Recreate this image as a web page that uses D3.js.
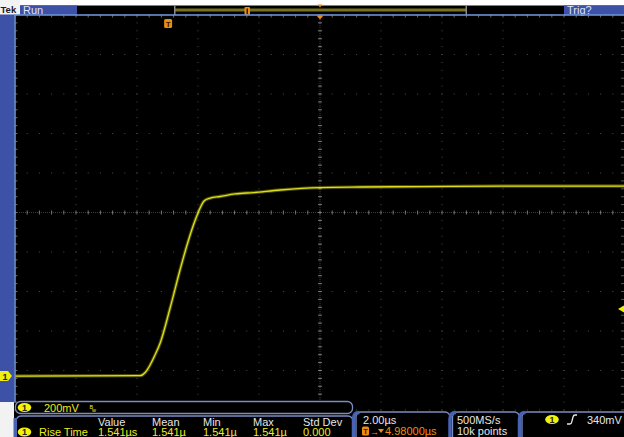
<!DOCTYPE html>
<html><head><meta charset="utf-8">
<script src="https://cdn.jsdelivr.net/npm/d3@7"></script>
<style>
html,body{margin:0;padding:0;background:#000;}
svg{display:block;}
text{font-family:"Liberation Sans","DejaVu Sans",sans-serif;}
</style></head>
<body>
<script>
// ---- data ----
// time in microseconds relative to trigger, voltage in mV (CH1, 200 mV/div)
const timeUs = [-5.02, -0.92, -0.75, -0.59, -0.43, -0.26, 0.07, 0.39, 0.66, 0.89, 1.05, 1.18, 1.38, 1.70, 2.20, 2.79, 3.67, 4.98, 6.30, 8.26, 10.89, 14.98];
const voltMv = [0, 2, 18, 56, 106, 167, 347, 537, 684, 790, 851, 886, 901, 909, 922, 929, 942, 954, 957, 959, 962, 962];
const timeDomain = [-5.02, 14.98];     // 10 div x 2.00 us
const voltDomain = [-172, 1828];       // 10 div x 200 mV
const measHeaders = ["Value", "Mean", "Min", "Max", "Std Dev"];
const measValues = ["1.541\u00b5s", "1.541\u00b5", "1.541\u00b5", "1.541\u00b5", "0.000"];
const measName = "Rise Time";
const chScale = "200mV";
const timeScale = "2.00\u00b5s";
const trigDelay = "4.98000\u00b5s";
const sampleRate = "500MS/s";
const recordLen = "10k points";
const trigLevelMv = 340;
const trigLevelText = "340mV";

const W = 624, H = 437;
const L = 15, R = 625, T = 15, B = 410;
const svg = d3.select("body").append("svg").attr("width", W).attr("height", H);

const x = d3.scaleLinear().domain(timeDomain).range([L, R]);
const y = d3.scaleLinear().domain(voltDomain).range([B, T]);

svg.append("rect").attr("width", W).attr("height", H).attr("fill", "#000");

// ---- graticule ----
const g = svg.append("g");
const xDiv = d3.range(0, 11).map(k => x(timeDomain[0] + k * 2));
const yDiv = d3.range(0, 11).map(k => y(voltDomain[0] + k * 200));
const xMinor = d3.range(0, 51).map(k => x(timeDomain[0] + k * 0.4));
const yMinor = d3.range(0, 51).map(k => y(voltDomain[0] + k * 40));
const dotCol = "#4c4c4c";
yDiv.forEach(yy => {
  xMinor.forEach(xx => g.append("rect").attr("x", xx - 0.5).attr("y", yy - 0.5).attr("width", 1).attr("height", 1).attr("fill", dotCol));
});
xDiv.forEach(xx => {
  yMinor.forEach(yy => g.append("rect").attr("x", xx - 0.5).attr("y", yy - 0.5).attr("width", 1).attr("height", 1).attr("fill", dotCol));
});
// center cross
const cx = xDiv[5], cy = yDiv[5];
g.append("line").attr("x1", L).attr("x2", R).attr("y1", cy).attr("y2", cy).attr("stroke", "#3c3c3c").attr("stroke-dasharray", "1,1");
g.append("line").attr("x1", cx).attr("x2", cx).attr("y1", T).attr("y2", B).attr("stroke", "#3c3c3c").attr("stroke-dasharray", "1,1");
xMinor.forEach(xx => g.append("line").attr("x1", xx).attr("x2", xx).attr("y1", cy - 2).attr("y2", cy + 2).attr("stroke", "#777"));
yMinor.forEach(yy => g.append("line").attr("x1", cx - 2).attr("x2", cx + 2).attr("y1", yy).attr("y2", yy).attr("stroke", "#777"));
// edge ticks
xMinor.forEach(xx => g.append("line").attr("x1", xx).attr("x2", xx).attr("y1", T).attr("y2", T + 2.5).attr("stroke", "#6b6b6b"));
yMinor.forEach(yy => g.append("line").attr("x1", L).attr("x2", L + 2.5).attr("y1", yy).attr("y2", yy).attr("stroke", "#6b6b6b"));
yMinor.forEach(yy => g.append("line").attr("x1", W - 3).attr("x2", W).attr("y1", yy).attr("y2", yy).attr("stroke", "#555"));

// ---- waveform ----
const line = d3.line().x((d, i) => x(timeUs[i])).y((d, i) => y(voltMv[i])).curve(d3.curveMonotoneX);
svg.append("path").attr("d", line(voltMv)).attr("fill", "none").attr("stroke", "#bcbc10").attr("stroke-opacity", 0.4).attr("stroke-width", 3.4);
svg.append("path").attr("d", line(voltMv)).attr("fill", "none").attr("stroke", "#dede1c").attr("stroke-width", 1.3);

// ---- frame ----
svg.append("rect").attr("x", 0).attr("y", 0).attr("width", W).attr("height", 5.5).attr("fill", "#fff");
svg.append("rect").attr("x", 0).attr("y", 0).attr("width", 20).attr("height", 15).attr("fill", "#f2f2f2");
svg.append("text").attr("x", 0.5).attr("y", 13).attr("font-size", 9.5).attr("font-weight", "bold").attr("fill", "#1a1a2a").text("Tek");
svg.append("rect").attr("x", 20).attr("y", 5.5).attr("width", 57).attr("height", 9.5).attr("fill", "#3d51a6");
svg.append("text").attr("x", 23).attr("y", 14).attr("font-size", 11).attr("fill", "#dfe4f4").text("Run");
svg.append("rect").attr("x", 564).attr("y", 5.5).attr("width", 60).attr("height", 9.5).attr("fill", "#3d51a6");
svg.append("text").attr("x", 567).attr("y", 14).attr("font-size", 11).attr("fill", "#dfe4f4").text("Trig?");
// record view
svg.append("rect").attr("x", 175).attr("y", 8.5).attr("width", 291).attr("height", 3).attr("fill", "#77731a");
svg.append("rect").attr("x", 174).attr("y", 5.5).attr("width", 1.5).attr("height", 9.5).attr("fill", "#8a8a8a");
svg.append("rect").attr("x", 465.5).attr("y", 5.5).attr("width", 1.5).attr("height", 9.5).attr("fill", "#8a8a8a");
svg.append("rect").attr("x", 244.5).attr("y", 7).attr("width", 5.5).attr("height", 8).attr("rx", 1).attr("fill", "#f08a10");
svg.append("rect").attr("x", 246.5).attr("y", 8.5).attr("width", 1.5).attr("height", 5.5).attr("fill", "#3a2000");
svg.append("path").attr("d", `M${cx - 2.5},4.5 L${cx + 2.5},4.5 L${cx},7.5 Z`).attr("fill", "#f08a10");
// blue borders
svg.append("rect").attr("x", 0).attr("y", 14.5).attr("width", 14.5).attr("height", 388).attr("fill", "#3d51a6");
svg.append("rect").attr("x", 14).attr("y", 14.2).attr("width", W - 14).attr("height", 1.6).attr("fill", "#6d8fd4");
svg.append("rect").attr("x", 14.2).attr("y", 14.5).attr("width", 1.6).attr("height", 388).attr("fill", "#6d8fd4");
svg.append("rect").attr("x", 0).attr("y", 402).attr("width", 14).attr("height", 35).attr("fill", "#f2f2f2");

// trigger position marker
const tx = x(0);
svg.append("rect").attr("x", tx - 4).attr("y", 19).attr("width", 8).attr("height", 9).attr("rx", 1.5).attr("fill", "#f08a10");
svg.append("text").attr("x", tx).attr("y", 26.5).attr("text-anchor", "middle").attr("font-size", 8).attr("font-weight", "bold").attr("fill", "#3a2000").text("T");
svg.append("path").attr("d", `M${cx - 3.5},15.5 L${cx + 3.5},15.5 L${cx},19.5 Z`).attr("fill", "#f08a10");

// ground marker & trigger level marker
const gy = y(0);
svg.append("path").attr("d", `M0,${gy - 5} L8,${gy - 5} L12,${gy} L8,${gy + 5} L0,${gy + 5} Z`).attr("fill", "#eeee10");
svg.append("text").attr("x", 5).attr("y", gy + 3.5).attr("text-anchor", "middle").attr("font-size", 9).attr("font-weight", "bold").attr("fill", "#222").text("1");
const ty = y(trigLevelMv);
svg.append("path").attr("d", `M${W},${ty - 3.5} L${W - 6},${ty} L${W},${ty + 3.5} Z`).attr("fill", "#eeee10");

// ---- readout panels ----
function badge(px, py) {
  svg.append("ellipse").attr("cx", px).attr("cy", py).attr("rx", 6.8).attr("ry", 4.6).attr("fill", "#f2f20a");
  svg.append("text").attr("x", px).attr("y", py + 3.3).attr("text-anchor", "middle").attr("font-size", 9).attr("font-weight", "bold").attr("fill", "#222").text("1");
}
function panel(px, py, pw, ph) {
  svg.append("rect").attr("x", px).attr("y", py).attr("width", pw).attr("height", ph).attr("rx", 5).attr("fill", "#000").attr("stroke", "#7d8cc0").attr("stroke-width", 1.3);
}
panel(15.5, 401.5, 337, 12);
svg.append("rect").attr("x", 0).attr("y", 414.5).attr("width", 14).attr("height", 23).attr("fill", "#f2f2f2");
panel(16, 416, 337, 30);
svg.append("rect").attr("x", 13.5).attr("y", 418).attr("width", 3.5).attr("height", 20).attr("fill", "#4862b4");
badge(24.5, 407.5);
svg.append("text").attr("x", 44).attr("y", 411.8).attr("font-size", 11).attr("fill", "#ecec20").text(chScale);
svg.append("text").attr("x", 89.5).attr("y", 409).attr("font-size", 5.5).attr("fill", "#ecec20").text("B");
svg.append("text").attr("x", 92).attr("y", 412).attr("font-size", 5.5).attr("fill", "#ecec20").text("w");

const colX = [98, 152, 203, 253, 303];
measHeaders.forEach((h, i) => svg.append("text").attr("x", colX[i]).attr("y", 425.5).attr("font-size", 11).attr("fill", "#e6e6e6").text(h));
badge(24.5, 432);
svg.append("text").attr("x", 39).attr("y", 436).attr("font-size", 11).attr("fill", "#ecec20").text(measName);
measValues.forEach((v, i) => svg.append("text").attr("x", colX[i]).attr("y", 436).attr("font-size", 11).attr("fill", "#ecec20").text(v));

panel(356, 412, 94, 30);
panel(452.5, 412, 67, 30);
panel(522, 412, 106, 30);
[353.5, 450, 519.5].forEach(px => svg.append("path").attr("d", `M${px + 6},412.5 Q${px},412.5 ${px},419 L${px},437`).attr("fill", "none").attr("stroke", "#4862b4").attr("stroke-width", 3.5));

svg.append("text").attr("x", 363).attr("y", 424).attr("font-size", 11).attr("fill", "#e6e6e6").text(timeScale);
svg.append("rect").attr("x", 362).attr("y", 426.5).attr("width", 7).attr("height", 9).attr("rx", 1.5).attr("fill", "#f08a10");
svg.append("text").attr("x", 365.5).attr("y", 434).attr("text-anchor", "middle").attr("font-size", 7.5).attr("font-weight", "bold").attr("fill", "#3a2000").text("T");
svg.append("text").attr("x", 370).attr("y", 434.5).attr("font-size", 9).attr("fill", "#f08a10").text("\u2192");
svg.append("path").attr("d", "M378,429 L384,429 L381,433 Z").attr("fill", "#f08a10");
svg.append("text").attr("x", 385).attr("y", 435).attr("font-size", 11).attr("fill", "#f08a10").text(trigDelay);

svg.append("text").attr("x", 457).attr("y", 424).attr("font-size", 11).attr("fill", "#e6e6e6").text(sampleRate);
svg.append("text").attr("x", 457).attr("y", 435).attr("font-size", 11).attr("fill", "#e6e6e6").text(recordLen);

badge(552, 419.5);
svg.append("path").attr("d", "M567,424 L570,424 Q571.5,424 572,421 L573,417 Q573.5,415 575,415 L577,415").attr("fill", "none").attr("stroke", "#e6e6e6").attr("stroke-width", 1.3);
svg.append("text").attr("x", 587).attr("y", 424).attr("font-size", 11).attr("fill", "#e6e6e6").text(trigLevelText);
</script>
</body></html>
